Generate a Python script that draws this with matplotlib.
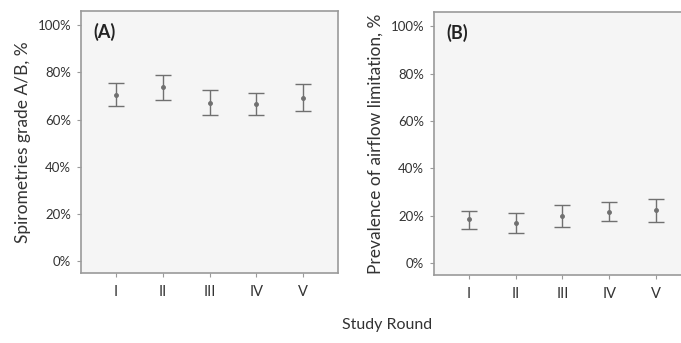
import matplotlib.pyplot as plt

plt.rcParams['font.family'] = ['Lato', 'DejaVu Sans']

rounds = ['I', 'II', 'III', 'IV', 'V']
x = [1, 2, 3, 4, 5]

# panel A: spirometries grade A/B (%)
a_mean = [70.3, 73.6, 67.2, 66.5, 69.1]
a_low = [65.8, 68.4, 61.9, 61.9, 63.7]
a_high = [75.3, 78.7, 72.7, 71.2, 75.0]

# panel B: prevalence of airflow limitation (%)
b_mean = [18.7, 17.0, 19.8, 21.6, 22.4]
b_low = [14.5, 12.8, 15.2, 17.6, 17.4]
b_high = [22.2, 21.0, 24.5, 25.7, 27.1]

W, H = 681, 343
fig = plt.figure(figsize=(W / 100, H / 100), dpi=100)

ax_a = fig.add_axes([81 / W, (H - 273) / H, 257 / W, 262 / H])
ax_b = fig.add_axes([434 / W, (H - 275) / H, 257 / W, 263 / H])

panels = [
    (ax_a, a_mean, a_low, a_high, '(A)', 'Spirometries grade A/B, %'),
    (ax_b, b_mean, b_low, b_high, '(B)', 'Prevalence of airflow limitation, %'),
]

for ax, m, lo, hi, tag, ylab in panels:
    ax.set_facecolor('#f5f5f5')
    err = [[mi - l for mi, l in zip(m, lo)], [h - mi for mi, h in zip(m, hi)]]
    ax.errorbar(x, m, yerr=err, fmt='o', ms=2.5, color='#707070', ecolor='#707070',
                elinewidth=1.0, capsize=6, capthick=1.0)
    ax.set_xlim(0.25, 5.75)
    ax.set_ylim(-5, 106)
    ax.set_yticks([0, 20, 40, 60, 80, 100])
    ax.set_yticklabels([f'{v}%' for v in [0, 20, 40, 60, 80, 100]])
    ax.set_xticks(x)
    ax.set_xticklabels(rounds)
    for s in ax.spines.values():
        s.set_color('#9a9a9a')
        s.set_linewidth(1.2)
    ax.tick_params(axis='y', length=3, color='#9a9a9a', labelsize=9.5, labelcolor='#333333', pad=4)
    ax.tick_params(axis='x', length=3, color='#9a9a9a', labelsize=10.5, labelcolor='#333333', pad=6)
    ax.set_ylabel(ylab, fontsize=12.5, color='#333333', labelpad=5)
    ax.text(0.05, 0.955, tag, transform=ax.transAxes, fontsize=13, fontweight='bold',
            color='#222222', va='top', ha='left')

fig.text(387 / W, 1 - 325 / H, 'Study Round', fontsize=11.5, color='#333333',
         ha='center', va='center')

fig.savefig('out.png', dpi=100, facecolor='white')
